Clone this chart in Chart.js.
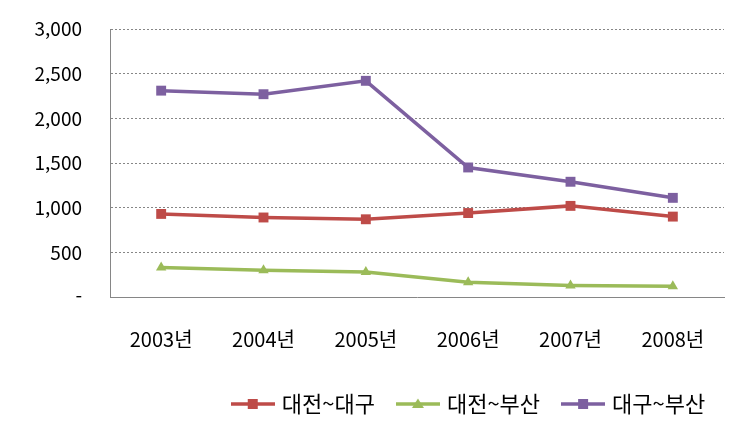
<!DOCTYPE html>
<html lang="ko">
<head>
<meta charset="UTF-8">
<title>구간별 추이</title>
<script src="https://cdn.jsdelivr.net/npm/chart.js"></script>
<style>
  body { margin: 0; padding: 0; background: #fff; }
  #wrap { width: 748px; height: 431px; position: relative; }
</style>
</head>
<body>
<div id="wrap"><canvas id="myChart"></canvas></div>
<script>
  // data
  const years = ['2003년', '2004년', '2005년', '2006년', '2007년', '2008년'];
  const daejeonDaegu = [930, 890, 870, 940, 1020, 900];
  const daejeonBusan = [330, 300, 280, 165, 130, 120];
  const daeguBusan = [2310, 2270, 2420, 1450, 1290, 1110];
  const seriesNames = ['대전~대구', '대전~부산', '대구~부산'];

  const colors = ['#BE4B48', '#9BBB59', '#7D60A0'];
  const styles = ['rect', 'triangle', 'rect'];
  const FONT = '"Noto Sans CJK KR", "Noto Sans", sans-serif';

  // small picture for the legend: line with a marker in the middle
  function legendIcon(color, style) {
    const c = document.createElement('canvas');
    c.width = 44; c.height = 14;
    const g = c.getContext('2d');
    g.strokeStyle = color;
    g.lineWidth = 3.5;
    g.beginPath(); g.moveTo(0, 7); g.lineTo(44, 7); g.stroke();
    g.fillStyle = color;
    g.beginPath();
    if (style === 'triangle') {
      g.moveTo(22, 1.5); g.lineTo(28, 11); g.lineTo(16, 11);
    } else {
      g.rect(17, 2, 10, 10);
    }
    g.fill();
    return c;
  }

  const legendShift = {
    id: 'legendShift',
    afterLayout(chart) {
      const l = chart.legend;
      const d = 470 - (l.left + l.right) / 2;
      l.left += d; l.right += d;
    }
  };

  const ctx = document.getElementById('myChart').getContext('2d');
  new Chart(ctx, {
    type: 'line',
    data: {
      labels: years,
      datasets: [daejeonDaegu, daejeonBusan, daeguBusan].map((vals, i) => ({
        label: seriesNames[i],
        data: vals,
        borderColor: colors[i],
        backgroundColor: colors[i],
        borderWidth: 3.5,
        pointStyle: styles[i],
        pointRadius: styles[i] === 'triangle' ? 6 : 7,
        pointBorderWidth: 0,
        tension: 0
      }))
    },
    options: {
      responsive: true,
      maintainAspectRatio: false,
      animation: false,
      layout: { padding: { left: 0, right: 24, top: 29, bottom: 6 } },
      plugins: {
        tooltip: { enabled: false },
        legend: {
          position: 'bottom',
          labels: {
            usePointStyle: true,
            pointStyleWidth: 36,
            padding: 25,
            color: '#000',
            font: { family: FONT, size: 22 },
            generateLabels(chart) {
              return chart.data.datasets.map((ds, i) => ({
                text: ds.label,
                pointStyle: legendIcon(colors[i], styles[i]),
                fillStyle: colors[i],
                strokeStyle: colors[i],
                lineWidth: 0,
                fontColor: '#000',
                datasetIndex: i
              }));
            }
          }
        }
      },
      scales: {
        x: {
          offset: true,
          grid: { display: false, drawTicks: false },
          border: { display: true, color: '#868686', width: 1 },
          ticks: { color: '#000', padding: 30, font: { family: FONT, size: 20 } },
          afterFit(scale) { scale.height = 71; }
        },
        y: {
          min: 0,
          max: 3000,
          grid: { color: '#868686', lineWidth: 1, drawTicks: false },
          border: { display: true, color: '#868686', width: 1, dash: [2, 2] },
          ticks: {
            stepSize: 500,
            color: '#000',
            padding: 28,
            font: { family: FONT, size: 19 },
            callback: v => v === 0 ? '-' : v.toLocaleString('en-US')
          },
          afterFit(scale) {
            scale.width = 110;
            // the tick padding is horizontal here; don't let it push the plot down
            scale.paddingTop = 0;
            scale.paddingBottom = 0;
          }
        }
      }
    },
    plugins: [legendShift]
  });
</script>
</body>
</html>
